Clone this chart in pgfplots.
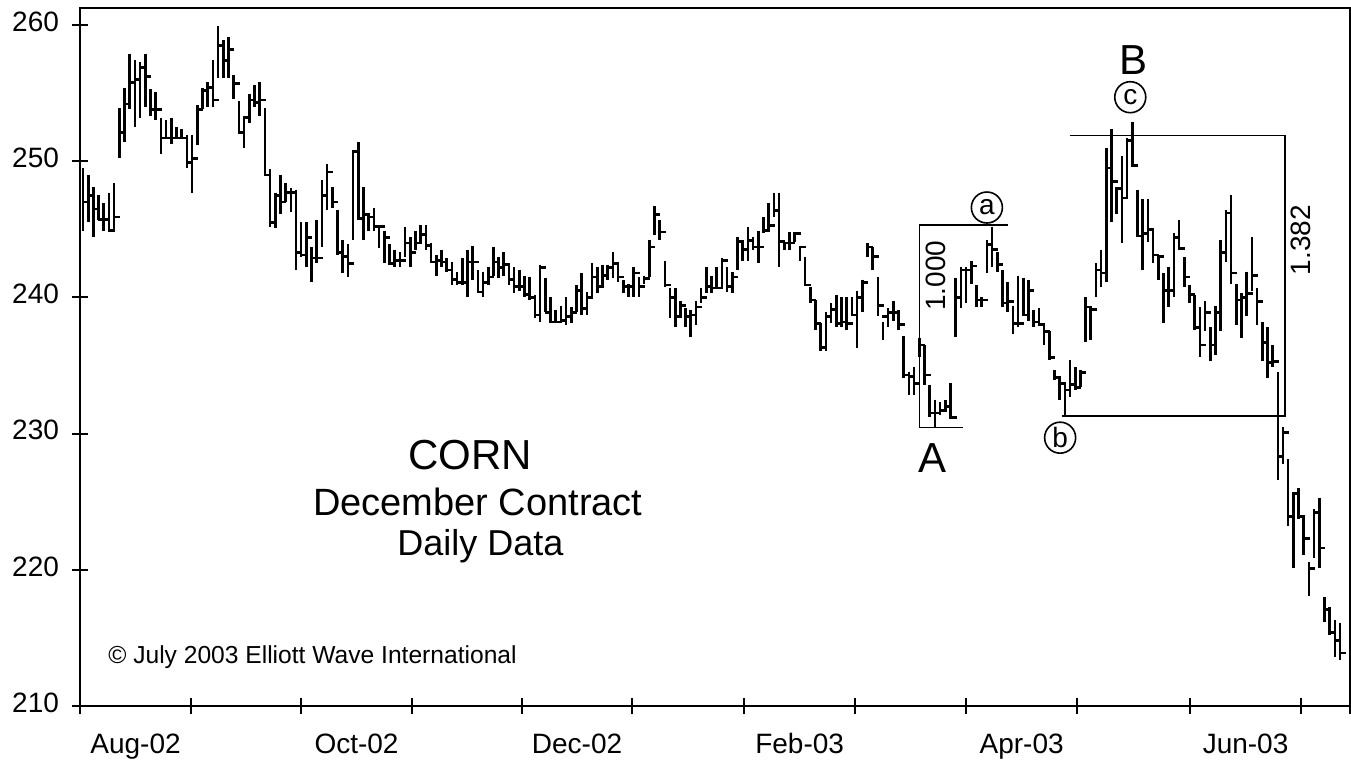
\documentclass[border=0pt]{standalone}
\usepackage{fontspec}
\setmainfont{Liberation Sans}
\usepackage{pgfplots}
\usepackage{pgfplotstable}
\pgfplotsset{compat=1.18}
\pgfdeclareplotmark{closetick}{\pgfpathmoveto{\pgfqpoint{-0.3pt}{0pt}}\pgfpathlineto{\pgfqpoint{3pt}{0pt}}\pgfusepathqstroke}

\pgfplotstableread{
h l c
249.5 244.9 247.0
249.0 245.5 247.5
248.1 244.4 246.5
247.5 245.7 245.7
246.9 244.9 245.7
247.7 244.9 244.9
248.4 244.8 245.9
253.9 250.2 252.1
255.4 251.4 254.2
257.9 253.8 255.8
257.4 252.5 256.0
257.3 253.2 256.9
257.9 254.0 256.2
255.3 253.3 253.8
255.1 253.0 253.8
253.2 250.5 251.7
253.0 251.7 251.7
253.2 251.3 251.7
252.5 251.6 251.7
252.4 251.6 251.7
251.9 249.5 249.9
251.9 247.7 250.2
254.1 251.2 253.8
255.4 253.8 255.2
255.8 254.0 255.4
257.4 254.0 254.5
259.9 256.1 258.5
258.9 256.1 257.4
259.1 256.1 258.2
256.3 254.6 255.7
254.4 252.1 252.1
253.3 251.0 253.2
254.9 252.8 254.5
255.6 254.0 254.3
255.8 253.3 254.5
253.9 249.0 249.0
249.4 245.2 245.5
247.7 245.1 247.5
249.0 246.1 247.0
248.4 247.0 247.7
248.0 246.3 247.7
247.9 242.0 243.3
245.5 243.0 243.1
245.5 242.2 244.4
243.7 241.1 242.9
245.7 242.5 242.9
248.6 243.7 247.5
249.8 246.4 249.2
248.1 246.6 247.0
246.4 243.1 243.3
244.2 241.8 243.0
243.9 241.5 242.5
250.8 244.2 250.7
251.4 245.7 245.8
248.1 244.2 246.1
246.2 244.9 245.9
246.6 244.9 245.2
245.2 243.6 245.2
244.9 242.5 244.4
243.9 242.4 242.5
243.5 242.2 242.7
243.3 242.2 242.7
245.2 243.0 244.0
244.4 242.2 243.3
244.9 243.5 244.0
245.3 243.9 244.6
245.3 243.5 243.8
244.0 242.6 242.6
243.1 241.6 242.7
243.5 242.2 242.6
242.9 241.9 242.0
242.6 240.9 241.3
241.9 240.9 241.1
242.9 240.9 241.1
243.5 240.0 242.6
243.8 241.3 242.6
242.0 240.4 240.4
241.9 240.0 241.1
242.2 240.9 241.5
243.7 241.6 242.6
243.0 241.4 242.2
243.3 241.6 242.4
242.4 240.9 241.3
242.2 240.3 240.8
242.0 240.5 240.8
241.6 240.0 240.2
241.5 239.8 240.0
240.2 238.5 238.7
242.4 238.2 242.2
241.4 238.9 238.9
240.0 238.1 238.2
239.1 238.1 238.2
239.4 238.1 238.3
240.0 238.0 238.6
239.3 238.1 238.9
240.9 238.9 240.5
241.8 238.7 239.2
240.4 238.7 240.0
242.5 240.0 241.5
242.2 240.3 240.8
242.4 240.7 241.6
242.4 241.3 242.2
243.3 241.4 242.5
242.6 241.1 241.5
241.3 240.3 240.8
241.0 240.0 240.8
242.2 240.0 241.8
241.5 240.0 240.8
241.6 241.0 241.4
244.2 241.5 243.7
246.7 244.6 246.1
245.7 244.2 244.8
242.7 240.8 240.9
240.7 238.5 240.0
240.7 237.8 238.6
239.7 238.5 239.4
239.2 237.8 238.6
239.1 237.1 238.7
239.7 238.0 239.3
240.7 239.6 240.0
242.2 240.3 240.8
241.6 240.3 240.7
242.2 240.7 240.7
242.9 240.7 242.7
242.2 240.4 240.8
241.9 240.3 241.5
244.4 242.0 244.1
244.1 242.7 243.5
245.2 242.7 244.2
244.4 243.5 243.7
244.9 242.5 243.7
245.9 244.7 244.9
246.9 244.8 245.3
247.7 245.9 246.4
247.7 242.2 244.1
244.1 243.5 244.0
244.8 243.5 244.0
244.8 244.1 244.7
243.8 242.7 243.7
243.0 240.9 240.9
240.8 239.6 239.8
239.8 237.6 238.1
238.1 236.1 236.3
238.9 236.1 238.6
239.6 238.1 239.1
240.2 237.8 238.1
240.0 237.8 238.2
240.0 237.6 238.1
240.0 238.6 238.7
240.5 236.3 240.0
241.3 238.9 241.1
244.0 243.0 243.7
243.7 242.0 243.0
241.5 238.6 239.4
238.2 236.9 238.6
239.2 237.8 238.9
239.7 238.3 238.9
239.1 237.6 238.0
237.2 234.1 234.3
234.5 232.8 234.2
234.9 232.8 233.7
237.0 235.6 236.5
236.5 233.6 234.3
233.6 231.2 231.5
232.5 230.5 231.5
232.3 231.4 231.7
232.5 231.6 232.0
233.7 231.1 231.2
241.4 237.1 240.0
242.2 239.2 242.0
242.2 239.6 242.0
242.7 241.0 242.3
240.9 239.3 239.8
240.0 239.3 239.8
244.2 241.8 243.9
245.2 242.2 243.5
243.3 241.9 242.4
242.0 239.3 239.6
241.1 238.9 239.7
239.4 237.3 238.1
241.6 237.8 238.1
241.4 238.6 238.7
241.3 238.3 240.5
239.1 237.8 238.2
239.2 238.0 238.0
238.1 236.5 237.5
237.5 235.4 235.6
234.7 233.9 234.1
234.2 232.5 233.7
233.7 231.2 233.2
235.4 232.7 233.6
234.9 233.2 233.4
234.7 233.4 234.5
240.0 236.7 239.3
239.3 236.9 239.1
242.5 240.0 242.0
243.5 240.8 241.8
251.0 241.1 249.5
252.4 245.5 248.5
248.1 246.1 248.0
250.4 244.0 247.3
251.7 247.3 251.5
252.9 249.6 249.7
247.9 244.4 244.5
247.2 242.0 244.7
247.2 244.1 245.0
245.0 242.5 243.1
243.1 241.3 243.0
241.8 238.1 240.5
242.2 239.3 240.5
244.7 240.0 244.4
245.7 243.5 243.6
243.0 240.8 241.5
240.9 239.6 240.2
240.2 237.6 237.8
239.3 235.6 236.5
239.7 237.5 238.9
237.8 235.3 236.5
239.4 235.8 238.9
244.2 237.5 243.3
246.4 242.6 246.2
247.5 241.0 241.8
241.0 238.0 239.8
240.3 237.0 240.0
241.9 238.6 240.3
244.4 240.5 241.6
240.7 238.0 239.7
238.2 235.3 236.7
237.8 234.1 235.2
236.5 234.9 235.3
234.5 226.6 228.3
230.5 227.8 230.1
228.1 223.2 223.9
225.7 220.1 225.6
226.0 223.7 223.9
223.8 221.1 222.3
220.6 218.1 220.1
224.5 220.9 224.2
225.3 220.1 221.6
218.0 216.2 217.1
217.3 215.2 215.4
216.3 213.6 214.8
216.1 213.4 213.9
}\corn

\begin{document}
\begin{tikzpicture}
\useasboundingbox (-40pt,-29pt) rectangle (635.5pt,353pt);
\begin{axis}[
  anchor=south west, at={(0,0)},
  width=635pt, height=349pt, scale only axis,
  xmin=-0.58, xmax=243.9, ymin=210, ymax=261.25,
  axis line style={line width=0.8pt},
  tick pos=left,
  tick align=center,
  major tick length=8pt,
  tick style={line width=1pt, black},
  ytick={210,220,230,240,250,260},
  xtick={-0.58,20.8,42.0,63.3,84.5,105.7,127.3,148.6,170.0,191.4,213.1,234.5,243.9},
  x tick label as interval,
  xticklabels={Aug-02,,Oct-02,,Dec-02,,Feb-03,,Apr-03,,Jun-03,},
  /pgf/number format/assume math mode=true,
  ticklabel style={font=\fontsize{14}{16}\selectfont},
  typeset ticklabels with strut,
  yticklabel style={xshift=-3pt},
  xticklabel style={yshift=-5pt},
  clip=false,
]
\addplot[only marks, mark=*, mark size=0pt, mark options={draw=none, fill=none}, black,
  error bars/.cd, y dir=minus, y explicit, error mark=none,
  error bar style={line width=1.3pt, black, draw opacity=1}]
  table[x expr=\coordindex, y=h, y error minus expr=\thisrow{h}-\thisrow{l}] {\corn};
\addplot[only marks, mark=closetick, mark options={line width=1.3pt}, black]
  table[x expr=\coordindex, y=c] {\corn};

\draw[line width=1.2pt] (rel axis cs:0,0) -- (rel axis cs:0,1);
\draw[line width=1.2pt] (rel axis cs:0,0) -- (rel axis cs:1,0);

% bracket A
\draw[line width=0.8pt] (axis cs:178.1,245.3) -- (axis cs:161.0,245.3) -- (axis cs:161.0,230.45) -- (axis cs:169.4,230.45);
\node[rotate=90, font=\fontsize{14}{14}\selectfont] at (axis cs:164.2,241.6) {1.000};
\node[font=\fontsize{21}{21}\selectfont] at (axis cs:163.6,228.2) {A};
\node[draw, circle, line width=0.8pt, minimum size=15.5pt, inner sep=0pt, fill=white, font=\fontsize{14}{14}\selectfont] at (axis cs:174.0,246.6) {a};
% bracket B
\draw[line width=0.8pt] (axis cs:190.0,251.9) -- (axis cs:231.4,251.9) -- (axis cs:231.4,231.3) -- (axis cs:188.5,231.3);
\node[rotate=90, font=\fontsize{14}{14}\selectfont] at (axis cs:234.4,244.2) {1.382};
\node[font=\fontsize{21}{21}\selectfont] at (axis cs:202.2,257.4) {B};
\node[draw, circle, line width=0.8pt, minimum size=15.5pt, inner sep=0pt, fill=white, font=\fontsize{14}{14}\selectfont] at (axis cs:201.6,254.7) {c};
\node[draw, circle, line width=0.8pt, minimum size=15.5pt, inner sep=0pt, fill=white, font=\fontsize{14}{14}\selectfont] at (axis cs:188.1,229.7) {b};

\node[font=\fontsize{21}{21}\selectfont] at (axis cs:74.5,228.4) {CORN};
\node[font=\fontsize{19}{19}\selectfont] at (axis cs:76.0,225.0) {December Contract};
\node[font=\fontsize{18}{18}\selectfont] at (axis cs:76.5,221.7) {Daily Data};
\node[anchor=west, inner sep=0pt, font=\fontsize{12.3}{12.3}\selectfont] at (axis cs:4.8,213.6) {© July 2003 Elliott Wave International};
\end{axis}
\end{tikzpicture}
\end{document}
